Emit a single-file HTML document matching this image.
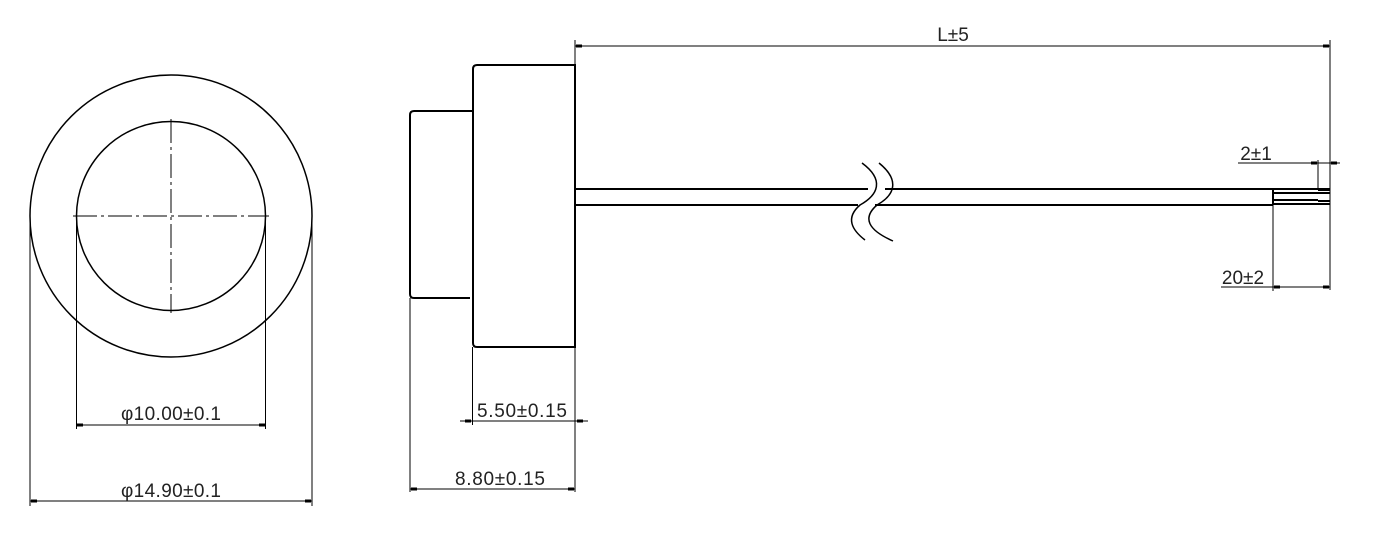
<!DOCTYPE html>
<html><head><style>body{margin:0;background:#fff}svg{display:block}text{font-family:"Liberation Sans",sans-serif;font-size:19px;fill:#222}</style></head><body>
<svg width="1386" height="551" viewBox="0 0 1386 551">
<g fill="none" stroke="#000" stroke-width="1">
<circle cx="171" cy="216" r="141" stroke-width="1.5"/>
<circle cx="171" cy="216" r="94.5" stroke-width="1.5"/>
<line x1="73" y1="216" x2="269" y2="216" stroke-dasharray="24,4,3,4"/>
<line x1="171" y1="119" x2="171" y2="313" stroke-dasharray="24,4,3,4"/>
<line x1="76.5" y1="216" x2="76.5" y2="429"/><line x1="265.5" y1="216" x2="265.5" y2="429"/>
<line x1="76.5" y1="425" x2="265.5" y2="425"/>
<line x1="30" y1="216" x2="30" y2="506"/><line x1="312" y1="216" x2="312" y2="506"/>
<line x1="30" y1="501" x2="312" y2="501"/>
<path d="M473,111 H414 Q410,111 410,115 V294 Q410,298 414,298 H470" stroke-width="2"/>
<path d="M575,65 H477 Q473,65 473,69 V343 Q473,347 477,347 H575 Z" stroke-width="2"/>
<path d="M575,189 H868 M885,189 H1330 M575,205 H858 M875,205 H1273" stroke-width="2"/>
<path d="M1273,189 V205 M1273,193 H1318 M1273,200 H1318 M1273,204 H1318 M1318,190 H1330 M1318,193 H1330 M1318,201 H1330 M1318,204 H1330" stroke-width="2"/>
<path d="M862,163 C885,180 878,195 860,205 C845,218 852,230 865,240" stroke-width="1.5"/>
<path d="M879,163 C900,180 895,195 877,205 C862,218 868,230 893,241" stroke-width="1.5"/>
<line x1="575" y1="40" x2="575" y2="65"/><line x1="1330" y1="40" x2="1330" y2="290"/>
<line x1="575" y1="46" x2="1330" y2="46"/>
<line x1="1318" y1="160" x2="1318" y2="190"/>
<line x1="1238" y1="163" x2="1340" y2="163"/>
<line x1="1273" y1="205" x2="1273" y2="291"/>
<line x1="1221" y1="287" x2="1330" y2="287"/>
<line x1="472.5" y1="347" x2="472.5" y2="425"/><line x1="575" y1="347" x2="575" y2="492"/>
<line x1="460" y1="421" x2="588" y2="421"/>
<line x1="410" y1="298" x2="410" y2="492"/>
<line x1="410" y1="489" x2="575" y2="489"/>
</g>
<g fill="#000">
<rect x="77" y="423.5" width="6" height="3"/><rect x="259" y="423.5" width="6" height="3"/>
<rect x="31" y="499.5" width="6" height="3"/><rect x="305" y="499.5" width="6" height="3"/>
<rect x="576" y="44.5" width="6" height="3"/><rect x="1323" y="44.5" width="6" height="3"/>
<rect x="1311" y="161.5" width="6" height="3"/><rect x="1331" y="161.5" width="6" height="3"/>
<rect x="1274" y="285.5" width="6" height="3"/><rect x="1323" y="285.5" width="6" height="3"/>
<rect x="465" y="419.5" width="6" height="3"/><rect x="577" y="419.5" width="6" height="3"/>
<rect x="411" y="487.5" width="6" height="3"/><rect x="568" y="487.5" width="6" height="3"/>
</g>
<text x="171" y="420" text-anchor="middle" textLength="100">φ10.00±0.1</text>
<text x="171" y="497" text-anchor="middle" textLength="100">φ14.90±0.1</text>
<text x="953" y="41" text-anchor="middle">L±5</text>
<text x="1256" y="160" text-anchor="middle">2±1</text>
<text x="1243" y="284" text-anchor="middle">20±2</text>
<text x="522" y="417" text-anchor="middle" textLength="90">5.50±0.15</text>
<text x="500" y="485" text-anchor="middle" textLength="90">8.80±0.15</text>
</svg>
</body></html>
